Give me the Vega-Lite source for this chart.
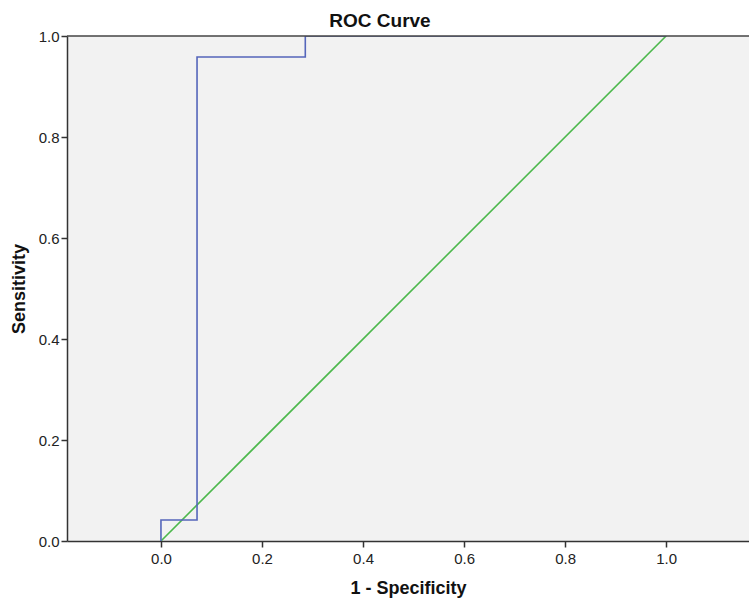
{
  "$schema": "https://vega.github.io/schema/vega-lite/v6.json",
  "width": 682,
  "height": 505,
  "autosize": {"type": "none"},
  "padding": {"left": 67, "top": 36, "right": 0, "bottom": 58},
  "background": "white",
  "title": {"text": "ROC Curve", "fontSize": 19, "fontWeight": "bold", "font": "Liberation Sans", "color": "#111", "anchor": "middle", "dx": -28, "offset": -2},
  "config": {
    "view": {"fill": "#f2f2f2", "stroke": null},
    "axis": {"grid": false, "domainColor": "#333", "domainWidth": 1.5, "tickColor": "#333", "tickWidth": 1.5, "tickSize": 6, "labelFont": "Liberation Sans", "labelFontSize": 15, "labelColor": "#222", "titleFont": "Liberation Sans", "titleFontSize": 18, "titleFontWeight": "bold", "titleColor": "#111"}
  },
  "datasets": {
    "roc": [
      {"fpr": 0.0, "tpr": 0.0, "order": 0},
      {"fpr": 0.0, "tpr": 0.0417, "order": 1},
      {"fpr": 0.0714, "tpr": 0.0417, "order": 2},
      {"fpr": 0.0714, "tpr": 0.9583, "order": 3},
      {"fpr": 0.2857, "tpr": 0.9583, "order": 4},
      {"fpr": 0.2857, "tpr": 1.0, "order": 5},
      {"fpr": 1.0, "tpr": 1.0, "order": 6}
    ],
    "ref": [
      {"fpr": 0.0, "tpr": 0.0, "order": 0},
      {"fpr": 1.0, "tpr": 1.0, "order": 1}
    ]
  },
  "layer": [
    {
      "data": {"name": "ref"},
      "mark": {"type": "line", "color": "#4cb84c", "strokeWidth": 1.6, "clip": true},
      "encoding": {
        "x": {"field": "fpr", "type": "quantitative", "scale": {"domain": [-0.186, 1.164], "nice": false, "zero": false},
          "axis": {"title": "1 - Specificity", "values": [0, 0.2, 0.4, 0.6, 0.8, 1.0], "format": ".1f", "labelPadding": 4, "titlePadding": 13}},
        "y": {"field": "tpr", "type": "quantitative", "scale": {"domain": [0, 1], "nice": false},
          "axis": {"title": "Sensitivity", "values": [0, 0.2, 0.4, 0.6, 0.8, 1.0], "format": ".1f", "labelPadding": 2, "titlePadding": 10}},
        "order": {"field": "order", "type": "quantitative"}
      }
    },
    {
      "data": {"name": "roc"},
      "mark": {"type": "line", "color": "#5566bb", "strokeWidth": 1.6, "clip": true},
      "encoding": {
        "x": {"field": "fpr", "type": "quantitative"},
        "y": {"field": "tpr", "type": "quantitative"},
        "order": {"field": "order", "type": "quantitative"}
      }
    },
    {
      "data": {"values": [{"y": 1}]},
      "mark": {"type": "rule", "color": "#444", "strokeWidth": 1.5},
      "encoding": {"y": {"field": "y", "type": "quantitative"}}
    }
  ]
}
